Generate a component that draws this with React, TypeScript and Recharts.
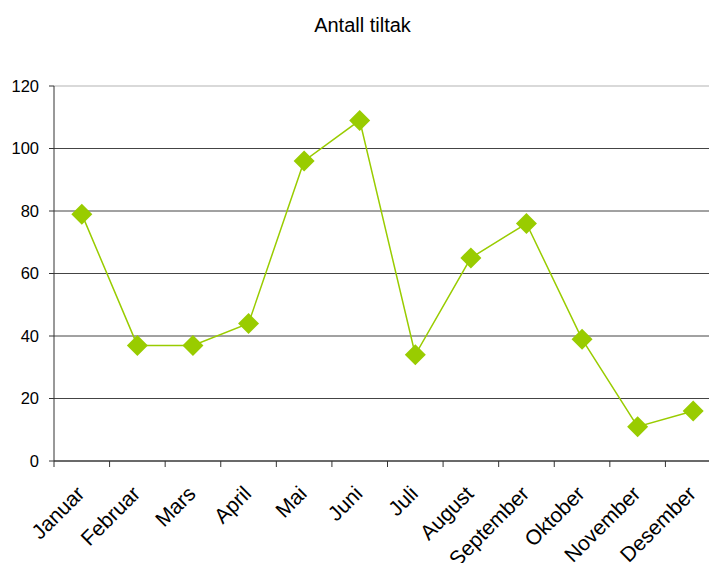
import { CartesianGrid, Line, LineChart, ReferenceLine, XAxis, YAxis } from "recharts"

const months = [
  "Januar",
  "Februar",
  "Mars",
  "April",
  "Mai",
  "Juni",
  "Juli",
  "August",
  "September",
  "Oktober",
  "November",
  "Desember",
]

const tiltak = [79, 37, 37, 44, 96, 109, 34, 65, 76, 39, 11, 16]

const yTicks = [0, 20, 40, 60, 80, 100, 120]

const data = months.map((name, i) => ({ name, tiltak: tiltak[i] }))

const CHART_W = 730
const AXIS_W = 54
const RIGHT = 9
const band = (CHART_W - AXIS_W - RIGHT) / months.length

const font = "'Liberation Sans', Arial, sans-serif"

function MonthTick(props: any) {
  const { x, y, payload } = props
  const axisY = y - 8
  const tx = x + 4
  const ty = axisY + 34
  return (
    <g>
      <line x1={x - band / 2} y1={axisY} x2={x - band / 2} y2={axisY + 6} stroke="#333" />
      {payload.index === months.length - 1 && (
        <line x1={x + band / 2} y1={axisY} x2={x + band / 2} y2={axisY + 6} stroke="#333" />
      )}
      <text
        x={tx}
        y={ty}
        textAnchor="end"
        fontSize={21}
        fontFamily={font}
        fill="#000"
        transform={`rotate(-45, ${tx}, ${ty})`}
      >
        {payload.value}
      </text>
    </g>
  )
}

function Diamond(props: any) {
  const { cx, cy, index } = props
  const r = 10.5
  return (
    <polygon
      key={index}
      points={`${cx},${cy - r} ${cx + r},${cy} ${cx},${cy + r} ${cx - r},${cy}`}
      fill="#99CC00"
    />
  )
}

export default function App() {
  return (
    <div style={{ position: "fixed", left: 0, top: 0, width: 709, height: 563, overflow: "hidden", background: "#fff" }}>
      <div
        style={{
          position: "absolute",
          top: 14,
          left: 0,
          width: 725,
          textAlign: "center",
          fontFamily: font,
          fontSize: 20,
          color: "#000",
        }}
      >
        Antall tiltak
      </div>
      <LineChart
        width={CHART_W}
        height={563}
        data={data}
        margin={{ top: 86, right: RIGHT, left: 0, bottom: 12 }}
      >
        <CartesianGrid vertical={false} stroke="#444" />
        <ReferenceLine y={120} stroke="#d9d9d9" strokeWidth={2} />
        <XAxis
          dataKey="name"
          height={90}
          interval={0}
          padding={{ left: band / 2, right: band / 2 }}
          axisLine={{ stroke: "#333" }}
          tickLine={false}
          tick={<MonthTick />}
        />
        <YAxis
          width={AXIS_W}
          domain={[0, 120]}
          ticks={yTicks}
          interval={0}
          axisLine={{ stroke: "#333" }}
          tickLine={{ stroke: "#333" }}
          tickSize={5}
          tickMargin={10}
          tick={{ fill: "#000", fontSize: 16.5, fontFamily: font }}
        />
        <Line
          dataKey="tiltak"
          stroke="#99CC00"
          strokeWidth={1.5}
          dot={(p: any) => <Diamond {...p} />}
          activeDot={false}
          isAnimationActive={false}
        />
      </LineChart>
    </div>
  )
}
